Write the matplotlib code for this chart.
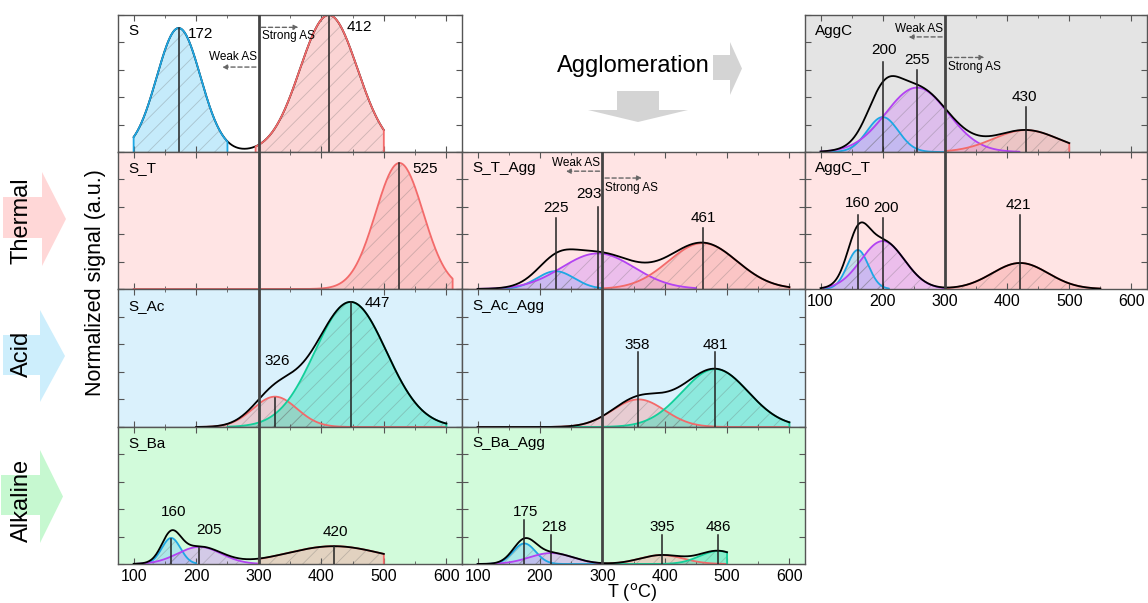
import numpy as np
import matplotlib.pyplot as plt
from matplotlib.patches import Polygon

plt.rcParams['font.family'] = ['Liberation Sans', 'DejaVu Sans']
plt.rcParams['hatch.linewidth'] = 0.6

W, H = 1148, 603

# peak fits: centre (degC), height (norm.), width sigma (degC)
S_pos = [172, 412]
S_amp = [0.905, 1.0]
S_wid = [35, 46]

S_T_pos = [525]
S_T_amp = [0.92]
S_T_wid = [38]

S_Ac_pos = [326, 447]
S_Ac_amp = [0.22, 0.906]
S_Ac_wid = [35, 57]

S_Ba_pos = [160, 205, 420]
S_Ba_amp = [0.19, 0.125, 0.13]
S_Ba_wid = [15, 35, 75]

S_T_Agg_pos = [225, 293, 461]
S_T_Agg_amp = [0.13, 0.26, 0.335]
S_T_Agg_wid = [30, 58, 55]

S_Ac_Agg_pos = [358, 481]
S_Ac_Agg_amp = [0.2, 0.42]
S_Ac_Agg_wid = [42, 53]

S_Ba_Agg_pos = [175, 218, 395, 486]
S_Ba_Agg_amp = [0.15, 0.08, 0.065, 0.095]
S_Ba_Agg_wid = [18, 35, 35, 30]

AggC_pos = [200, 255, 430]
AggC_amp = [0.255, 0.47, 0.16]
AggC_wid = [25, 50, 52]

AggC_T_pos = [160, 200, 421]
AggC_T_amp = [0.285, 0.35, 0.19]
AggC_T_wid = [17, 35, 45]

x_ticks = [100, 200, 300, 400, 500, 600]

BLUE, RED, PURPLE, GREEN = '#1ea7e4', '#f36a6a', '#b343f2', '#14cf9a'
FILL = {BLUE: '#7fd3f7', RED: '#f7a0a0', PURPLE: '#d690f7', GREEN: '#2fe0b8'}
BG = {'w': 'white', 'g': '#e4e4e4', 'p': '#ffe4e4', 'b': '#daf1fc', 'n': '#d2fbdb'}


def gauss(x, c, a, w):
    return a * np.exp(-(x - c) ** 2 / (2.0 * w ** 2))


fig = plt.figure(figsize=(W / 100, H / 100), dpi=100)

cols = [(118, 462), (462, 805), (805, 1147)]
rows = [(15, 152), (152, 289), (289, 427), (427, 564)]

# name, col, row, bg, data, colours, spans, envelope span, env on top,
# marker tops, label (x, y, ha), show x tick labels, AS arrows
panels = [
    ('S', 0, 0, 'w', (S_pos, S_amp, S_wid), [BLUE, RED],
     [(100, 250), (295, 500)], (100, 500), False,
     [0.905, 1.0], [(186, 0.86, 'left'), (441, 0.91, 'left')], False,
     (0.62, 0.69, 0.91, 0.85)),
    ('S_T', 0, 1, 'p', (S_T_pos, S_T_amp, S_T_wid), [RED],
     [(100, 610)], None, True,
     [0.92], [(545, 0.875, 'left')], False, None),
    ('S_Ac', 0, 2, 'b', (S_Ac_pos, S_Ac_amp, S_Ac_wid), [RED, GREEN],
     [(200, 600), (250, 600)], (200, 600), True,
     [0.21, 0.906], [(329, 0.48, 'center'), (470, 0.9, 'left')], False, None),
    ('S_Ba', 0, 3, 'n', (S_Ba_pos, S_Ba_amp, S_Ba_wid), [BLUE, PURPLE, RED],
     [(110, 200), (105, 300), (300, 500)], (100, 500), True,
     [0.18, 0.12, 0.13], [(164, 0.38, 'center'), (220, 0.25, 'center'),
                          (423, 0.23, 'center')], True, None),
    ('S_T_Agg', 1, 1, 'p', (S_T_Agg_pos, S_T_Agg_amp, S_T_Agg_wid),
     [BLUE, PURPLE, RED], [(100, 300), (100, 450), (300, 600)], (100, 600), True,
     [0.52, 0.6, 0.445], [(225, 0.59, 'center'), (279, 0.69, 'center'),
                          (462, 0.52, 'center')], False,
     (0.86, 0.92, 0.81, 0.74)),
    ('S_Ac_Agg', 1, 2, 'b', (S_Ac_Agg_pos, S_Ac_Agg_amp, S_Ac_Agg_wid),
     [RED, GREEN], [(100, 600), (200, 600)], (100, 600), True,
     [0.545, 0.545], [(356, 0.595, 'center'), (481, 0.595, 'center')], False, None),
    ('S_Ba_Agg', 1, 3, 'n', (S_Ba_Agg_pos, S_Ba_Agg_amp, S_Ba_Agg_wid),
     [BLUE, PURPLE, RED, GREEN], [(100, 300), (100, 300), (300, 500), (300, 500)],
     (100, 500), True,
     [0.32, 0.21, 0.21, 0.21], [(177, 0.38, 'center'), (222, 0.27, 'center'),
                                (396, 0.27, 'center'), (486, 0.27, 'center')],
     True, None),
    ('AggC', 2, 0, 'g', (AggC_pos, AggC_amp, AggC_wid), [BLUE, PURPLE, RED],
     [(100, 300), (100, 420), (300, 500)], (100, 500), True,
     [0.66, 0.6, 0.33], [(202, 0.745, 'center'), (255, 0.67, 'center'),
                         (428, 0.4, 'center')], False,
     (0.84, 0.9, 0.69, 0.62)),
    ('AggC_T', 2, 1, 'p', (AggC_T_pos, AggC_T_amp, AggC_T_wid), [BLUE, PURPLE, RED],
     [(105, 210), (105, 300), (300, 550)], (100, 550), True,
     [0.54, 0.52, 0.54], [(159, 0.63, 'center'), (205, 0.59, 'center'),
                          (418, 0.61, 'center')], True, None),
]

for (name, c, r, bg, data, colours, spans, env, env_top, tops, labs,
     show_xt, arrows) in panels:
    x0, x1 = cols[c]
    y0, y1 = rows[r]
    ax = fig.add_axes([x0 / W, 1 - y1 / H, (x1 - x0) / W, (y1 - y0) / H])
    ax.set_facecolor(BG[bg])
    ax.set_xticks(x_ticks)
    ax.set_xticks(np.arange(100, 601, 50), minor=True)
    ax.set_yticks(np.arange(0, 1.01, 0.2))
    ax.set_yticklabels([])
    ax.set_xlim(75, 625)
    ax.set_ylim(0, 1)
    ax.tick_params(direction='in', which='both', top=True, right=True,
                   colors='#555555', labelcolor='black', labelsize=11.5)
    ax.tick_params(which='major', length=4, width=0.8)
    ax.tick_params(which='minor', length=2.5, width=0.6)
    if not show_xt:
        ax.set_xticklabels([])
    for sp in ax.spines.values():
        sp.set_color('#555555')
        sp.set_linewidth(1.0)

    pos, amp, wid = data
    zline = 4 if env_top else 2
    if env is not None:
        xe = np.linspace(env[0], env[1], 400)
        ye = sum(gauss(xe, p, a, w) for p, a, w in zip(pos, amp, wid))
        ax.plot(xe, ye, color='black', lw=1.3, zorder=3 if env_top else 1.5)
    for p, a, w, col, (lo, hi) in zip(pos, amp, wid, colours, spans):
        xs = np.linspace(lo, hi, 300)
        ys = gauss(xs, p, a, w)
        ax.fill_between(xs, 0, ys, facecolor=FILL[col], alpha=0.45, lw=0, zorder=1)
        ax.fill_between(xs, 0, ys, facecolor='none', edgecolor=(0.4, 0.4, 0.4, 0.3),
                        hatch='//', lw=0, zorder=1.1)
        ax.plot(np.r_[lo, xs, hi], np.r_[0, ys, 0], color=col, lw=1.3, zorder=2)

    for p, t, (lx, ly, ha) in zip(pos, tops, labs):
        ax.plot([p, p], [0, t], color='#222222', lw=1.1, zorder=zline)
        ax.text(lx, ly, str(p), ha=ha, va='center', fontsize=11, zorder=6)

    ax.axvline(300, color='#444444', lw=2.0, zorder=5)
    ax.text(0.03, 0.88, name, transform=ax.transAxes, fontsize=11,
            ha='left', va='center')

    if arrows is not None:
        wy, wty, sy, sty = arrows
        ap = dict(arrowstyle='-|>', color='#666666', lw=1.0,
                  linestyle=(0, (3, 2)), mutation_scale=7)
        ax.annotate('', xy=(237, wy), xytext=(300, wy), arrowprops=ap, zorder=6)
        ax.annotate('', xy=(368, sy), xytext=(300, sy), arrowprops=ap, zorder=6)
        ax.text(297, wty, 'Weak AS', ha='right', va='center', fontsize=8.5)
        ax.text(305, sty, 'Strong AS', ha='left', va='center', fontsize=8.5)


def fpt(x, y):
    return (x / W, 1 - y / H)


def block_arrow(x0, x1, xt, by0, by1, hy0, hy1, colour):
    yc = (hy0 + hy1) / 2.0
    pts = [fpt(x0, by0), fpt(x1, by0), fpt(x1, hy0), fpt(xt, yc),
           fpt(x1, hy1), fpt(x1, by1), fpt(x0, by1)]
    fig.patches.append(Polygon(pts, closed=True, facecolor=colour, edgecolor='none',
                               transform=fig.transFigure, zorder=0))


def down_arrow(xc, bw, hw, by0, by1, yt, colour):
    pts = [fpt(xc - bw, by0), fpt(xc + bw, by0), fpt(xc + bw, by1), fpt(xc + hw, by1),
           fpt(xc, yt), fpt(xc - hw, by1), fpt(xc - bw, by1)]
    fig.patches.append(Polygon(pts, closed=True, facecolor=colour, edgecolor='none',
                               transform=fig.transFigure, zorder=0))


# treatment arrows on the left
block_arrow(3, 42, 66, 197, 238, 172, 266, '#ffd7d7')
block_arrow(3, 40, 65, 335, 375, 310, 402, '#cdeefc')
block_arrow(1, 40, 63, 475, 515, 450, 543, '#c6f8d0')
for label, yc in [('Thermal', 221), ('Acid', 354), ('Alkaline', 500)]:
    fig.text(*fpt(22, yc), label, rotation=90, ha='center', va='center', fontsize=17)

fig.text(*fpt(96, 283), 'Normalized signal (a.u.)', rotation=90,
         ha='center', va='center', fontsize=15.5)

# agglomeration arrows
block_arrow(713, 730, 742, 55, 80, 42, 95, '#d4d4d4')
down_arrow(638, 21, 50, 91, 110, 122, '#d4d4d4')
fig.text(*fpt(633, 66), 'Agglomeration', ha='center', va='center', fontsize=17)

fig.text(*fpt(632, 592), r'T ($^{\rm o}$C)', ha='center', va='center', fontsize=13)

fig.savefig('out.png', dpi=100)
